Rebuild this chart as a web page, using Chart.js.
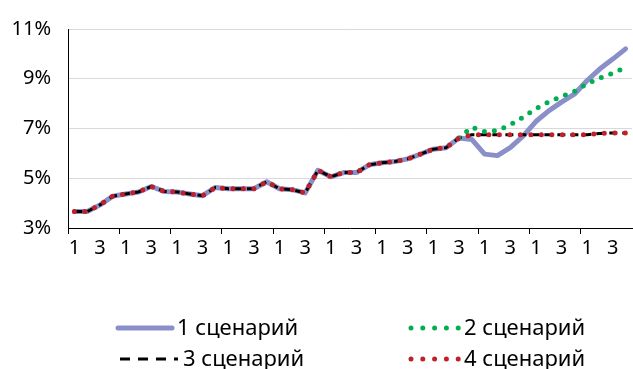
<!DOCTYPE html>
<html>
<head>
<meta charset="utf-8">
<script src="https://cdn.jsdelivr.net/npm/chart.js@4/dist/chart.umd.min.js"></script>
<style>
  html, body { margin: 0; padding: 0; background: #fff; }
  #wrap { width: 633px; height: 369px; }
</style>
</head>
<body>
<div id="wrap"><canvas id="chart" width="633" height="369"></canvas></div>
<script>
// quarters of 11 years, only 1st and 3rd quarter are labelled
const years = 11;
const quarters = ['1', '2', '3', '4'];
const labels = [];
for (let y = 0; y < years; y++) labels.push(...quarters);

const seriesNames = ['1 сценарий', '2 сценарий', '3 сценарий', '4 сценарий'];
const yTicks = [3, 5, 7, 9, 11];

const scenario1 = [3.66, 3.66, 3.93, 4.28, 4.37, 4.45, 4.67, 4.47, 4.45, 4.37, 4.30,
  4.63, 4.58, 4.58, 4.58, 4.86, 4.58, 4.54, 4.41, 5.32, 5.06, 5.23, 5.23, 5.54, 5.62,
  5.67, 5.78, 5.97, 6.17, 6.23, 6.62, 6.56, 5.97, 5.91, 6.23, 6.69, 7.28, 7.71, 8.06,
  8.38, 8.93, 9.40, 9.79, 10.20];
const scenario2 = [null, null, null, null, null, null, null, null, null, null, null,
  null, null, null, null, null, null, null, null, null, null, null, null, null, null,
  null, null, null, null, null, 6.62, 7.05, 6.88, 6.92, 7.15, 7.45, 7.80, 8.07, 8.29,
  8.49, 8.80, 9.03, 9.22, 9.45];
const scenario3 = [3.66, 3.66, 3.93, 4.28, 4.37, 4.45, 4.67, 4.47, 4.45, 4.37, 4.30,
  4.63, 4.58, 4.58, 4.58, 4.86, 4.58, 4.54, 4.41, 5.32, 5.06, 5.23, 5.23, 5.54, 5.62,
  5.67, 5.78, 5.97, 6.17, 6.23, 6.62, 6.75, 6.75, 6.75, 6.75, 6.75, 6.75, 6.75, 6.75,
  6.75, 6.75, 6.80, 6.82, 6.82];
const scenario4 = [3.66, 3.66, 3.93, 4.28, 4.37, 4.45, 4.67, 4.47, 4.45, 4.37, 4.30,
  4.63, 4.58, 4.58, 4.58, 4.86, 4.58, 4.54, 4.41, 5.32, 5.06, 5.23, 5.23, 5.54, 5.62,
  5.67, 5.78, 5.97, 6.17, 6.23, 6.62, 6.75, 6.75, 6.75, 6.75, 6.75, 6.75, 6.75, 6.75,
  6.75, 6.75, 6.80, 6.82, 6.82];

const FONT = "'Noto Sans', sans-serif";

// legend in two columns, like the excel one
const gridLegend = {
  id: 'gridLegend',
  afterDraw(chart) {
    const ctx = chart.ctx;
    const slots = [
      {x: 118, y: 328, len: 54},
      {x: 411, y: 328, len: 48},
      {x: 120, y: 359, len: 58},
      {x: 411, y: 359, len: 48}
    ];
    chart.data.datasets.forEach((ds, i) => {
      const s = slots[i];
      ctx.save();
      ctx.strokeStyle = ds.borderColor;
      ctx.lineWidth = ds.borderWidth;
      ctx.lineCap = ds.borderCapStyle || 'butt';
      ctx.setLineDash(ds.legendDash || ds.borderDash || []);
      ctx.beginPath();
      ctx.moveTo(s.x, s.y);
      ctx.lineTo(s.x + s.len, s.y);
      ctx.stroke();
      ctx.setLineDash([]);
      ctx.fillStyle = '#000';
      ctx.font = "22px " + FONT;
      ctx.textBaseline = 'middle';
      ctx.fillText(ds.label, s.x + s.len + 5, s.y + 1);
      ctx.restore();
    });
  }
};

new Chart(document.getElementById('chart'), {
  type: 'line',
  data: {
    labels: labels,
    datasets: [
      {label: seriesNames[0], data: scenario1, borderColor: '#8b8fc9', borderWidth: 5,
       borderCapStyle: 'round', borderJoinStyle: 'round', order: 4},
      {label: seriesNames[1], data: scenario2, borderColor: '#00b050', borderWidth: 5,
       borderDash: [0, 10], legendDash: [0, 11.8], borderCapStyle: 'round', order: 2},
      {label: seriesNames[2], data: scenario3, borderColor: '#000000', borderWidth: 3,
       borderDash: [8, 5], legendDash: [10, 8], order: 3},
      {label: seriesNames[3], data: scenario4, borderColor: '#c0202a', borderWidth: 5,
       borderDash: [0, 10.5], legendDash: [0, 11.8], borderCapStyle: 'round', order: 1}
    ]
  },
  options: {
    responsive: false,
    animation: false,
    spanGaps: false,
    layout: {padding: {top: 22, right: 1, bottom: 101, left: 0}},
    elements: {point: {radius: 0, hoverRadius: 0}, line: {tension: 0, fill: false}},
    plugins: {legend: {display: false}, tooltip: {enabled: false}},
    scales: {
      x: {
        offset: true,
        grid: {
          offset: true,
          drawOnChartArea: false,
          tickLength: 6,
          color: ctx => (ctx.index % 4 === 0 ? '#000' : 'rgba(0,0,0,0)')
        },
        border: {display: true, color: '#000', width: 1},
        ticks: {
          autoSkip: false,
          maxRotation: 0,
          padding: 2,
          color: '#000',
          font: {family: FONT, size: 20},
          callback: (v, i) => (i % 2 === 0 ? labels[i] : '')
        },
        afterFit: s => { s.height = 40; }
      },
      y: {
        min: yTicks[0],
        max: yTicks[yTicks.length - 1],
        afterBuildTicks: s => { s.ticks = yTicks.map(v => ({value: v})); },
        grid: {color: '#d9d9d9', lineWidth: 1, drawTicks: false},
        border: {display: true, color: '#000', width: 1},
        ticks: {
          padding: 17,
          color: '#000',
          font: {family: FONT, size: 20},
          callback: v => v + '%'
        },
        afterFit: s => { s.width = 68; }
      }
    }
  },
  plugins: [gridLegend]
});
</script>
</body>
</html>
